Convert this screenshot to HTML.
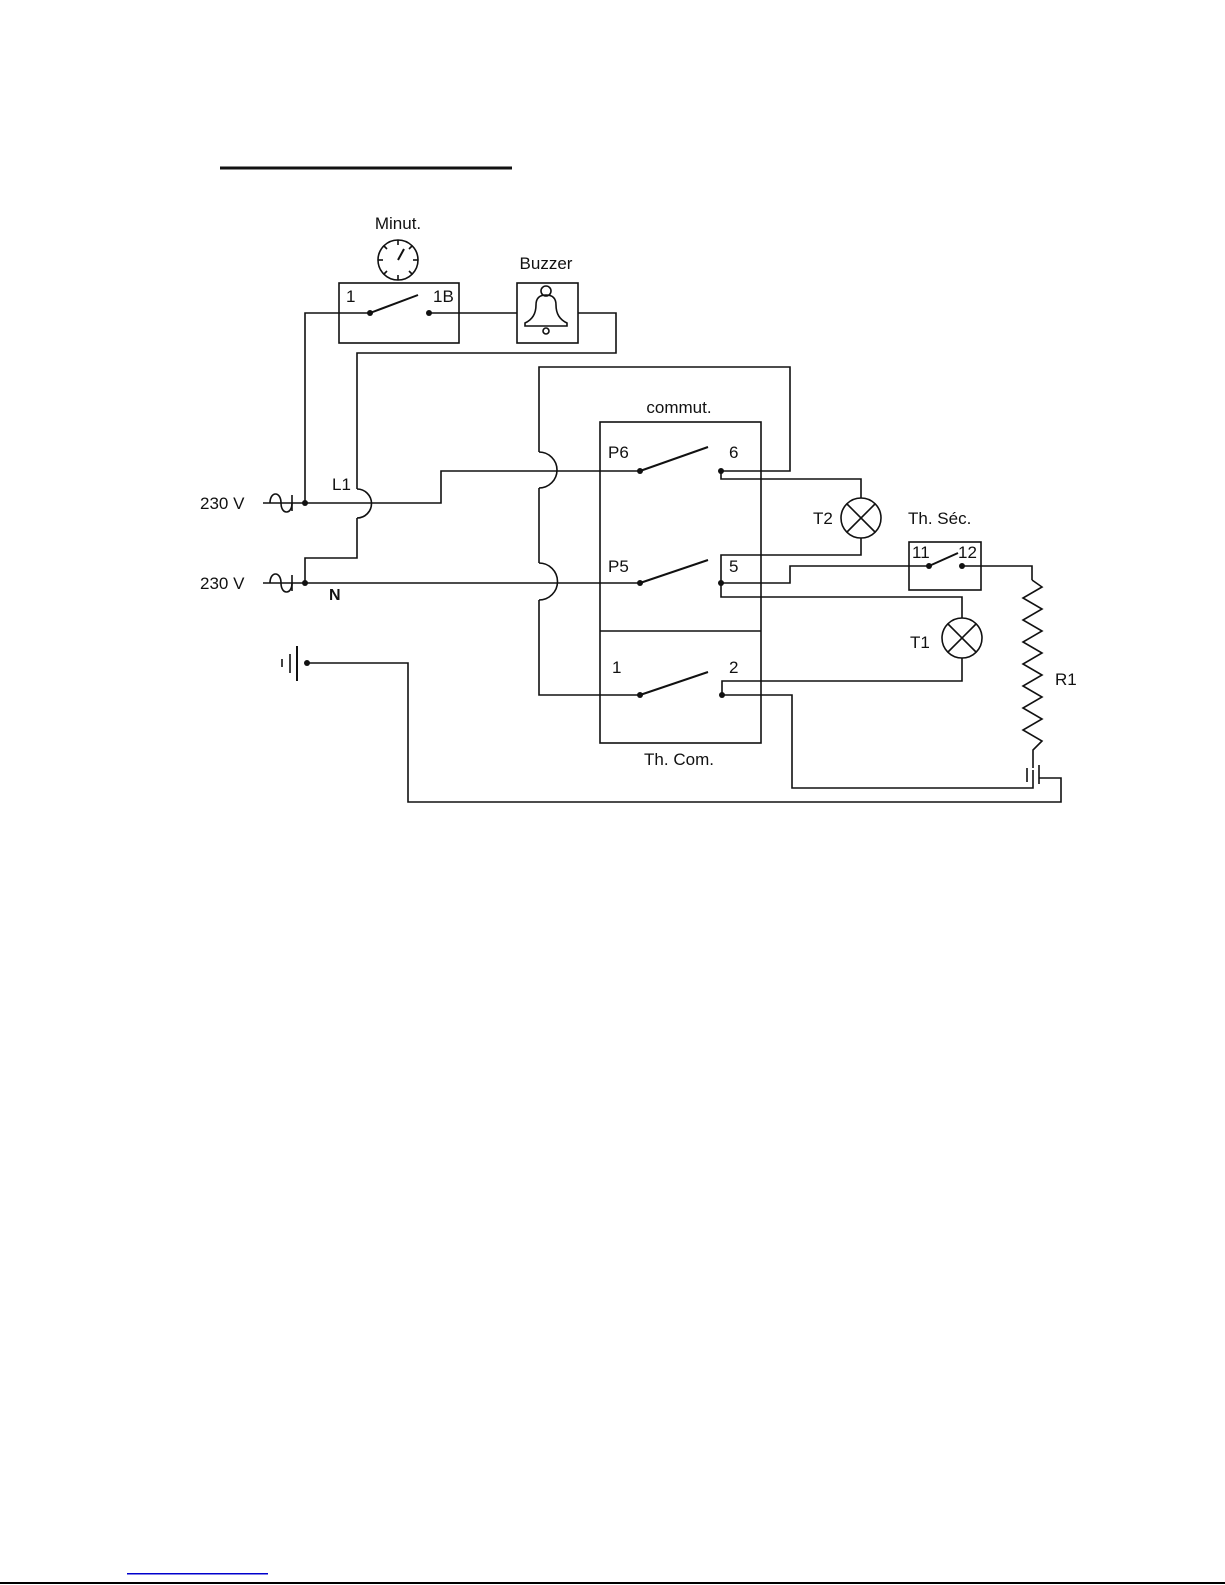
<!DOCTYPE html>
<html><head><meta charset="utf-8"><style>
html,body{margin:0;padding:0;background:#fff;}
svg{display:block;}
text{font-family:"Liberation Sans",sans-serif;font-size:17px;fill:#111;}
</style></head><body>
<svg width="1225" height="1585" viewBox="0 0 1225 1585" xmlns="http://www.w3.org/2000/svg">
<g stroke="#111" stroke-width="1.6" fill="none">
<!-- title underline -->
<line x1="220" y1="168" x2="512" y2="168" stroke-width="3"/>
<!-- clock -->
<circle cx="398" cy="260" r="20"/>
<line x1="398" y1="240" x2="398" y2="245"/><line x1="398" y1="275" x2="398" y2="280"/>
<line x1="378" y1="260" x2="383" y2="260"/><line x1="413" y1="260" x2="418" y2="260"/>
<line x1="384" y1="246" x2="387" y2="249"/><line x1="412" y1="246" x2="409" y2="249"/>
<line x1="384" y1="274" x2="387" y2="271"/><line x1="412" y1="274" x2="409" y2="271"/>
<line x1="398" y1="260" x2="404" y2="249" stroke-width="2"/>
<!-- minut box -->
<rect x="339" y="283" width="120" height="60"/>
<line x1="370" y1="313" x2="418" y2="295" stroke-width="2"/>
<!-- buzzer -->
<rect x="517" y="283" width="61" height="60"/>
<circle cx="546" cy="291" r="5"/>
<path d="M525,323 Q536,318 536,305 Q536,295 546,295 Q556,295 556,305 Q556,318 567,323 L567,326 L525,326 Z"/>
<circle cx="546" cy="331" r="3"/>
<!-- wires top -->
<polyline points="370,313 305,313 305,503"/>
<polyline points="429,313 517,313"/>
<polyline points="578,313 616,313 616,353 357,353 357,489"/>
<path d="M357,489 A14,14 0 0 1 357,518"/>
<polyline points="357,518 357,558 305,558 305,583"/>
<!-- L1 -->
<polyline points="263,503 441,503 441,471 640,471"/>
<!-- N -->
<polyline points="263,583 640,583"/>
<!-- AC symbols -->
<path d="M270,503 C270,491 281,491 281,503 C281,515 292,515 292,503"/>
<line x1="292" y1="495" x2="292" y2="511"/>
<path d="M270,583 C270,571 281,571 281,583 C281,595 292,595 292,583"/>
<line x1="292" y1="575" x2="292" y2="591"/>
<!-- vertical big wire x=539 -->
<polyline points="721,471 790,471 790,367 539,367 539,452"/>
<path d="M539,452 A18,18 0 0 1 539,488"/>
<line x1="539" y1="488" x2="539" y2="563"/>
<path d="M539,563 A18,18 0 0 1 539,600"/>
<polyline points="539,600 539,695 640,695"/>
<!-- commut box -->
<rect x="600" y="422" width="161" height="321"/>
<line x1="600" y1="631" x2="761" y2="631"/>
<line x1="640" y1="471" x2="708" y2="447" stroke-width="2"/>
<line x1="640" y1="583" x2="708" y2="560" stroke-width="2"/>
<line x1="640" y1="695" x2="708" y2="672" stroke-width="2"/>
<!-- T2 -->
<polyline points="721,471 721,479 861,479 861,498"/>
<circle cx="861" cy="518" r="20"/>
<line x1="847" y1="504" x2="875" y2="532"/><line x1="875" y1="504" x2="847" y2="532"/>
<polyline points="861,538 861,555 721,555 721,597 962,597 962,618"/>
<!-- T1 -->
<circle cx="962" cy="638" r="20"/>
<line x1="948" y1="624" x2="976" y2="652"/><line x1="976" y1="624" x2="948" y2="652"/>
<polyline points="962,658 962,681 722,681 722,695"/>
<!-- Th Sec -->
<polyline points="721,583 790,583 790,566 929,566"/>
<rect x="909" y="542" width="72" height="48"/>
<line x1="929" y1="566" x2="958" y2="553" stroke-width="2"/>
<polyline points="962,566 1032,566 1032,580"/>
<!-- resistor -->
<polyline points="1032,580 1042,587 1023,598 1042,609 1023,620 1042,631 1023,642 1042,653 1023,664 1042,675 1023,686 1042,697 1023,708 1042,719 1023,730 1042,741 1033,750 1033,768"/>
<!-- 2 to resistor -->
<polyline points="722,695 792,695 792,788 1033,788 1033,770"/>
<line x1="1027" y1="768" x2="1027" y2="782"/>
<line x1="1039" y1="765" x2="1039" y2="784"/>
<polyline points="1039,778 1061,778 1061,802 408,802 408,663 307,663"/>
<!-- ground -->
<line x1="282" y1="659" x2="282" y2="667"/>
<line x1="290" y1="654" x2="290" y2="673"/>
<line x1="297" y1="646" x2="297" y2="681" stroke-width="2"/>
</g>
<g fill="#111">
<circle cx="370" cy="313" r="3"/><circle cx="429" cy="313" r="3"/>
<circle cx="305" cy="503" r="3"/><circle cx="305" cy="583" r="3"/><circle cx="307" cy="663" r="3"/>
<circle cx="640" cy="471" r="3"/><circle cx="721" cy="471" r="3"/>
<circle cx="640" cy="583" r="3"/><circle cx="721" cy="583" r="3"/>
<circle cx="640" cy="695" r="3"/><circle cx="722" cy="695" r="3"/>
<circle cx="929" cy="566" r="3"/><circle cx="962" cy="566" r="3"/>
</g>
<text x="398" y="229" text-anchor="middle">Minut.</text>
<text x="546" y="269" text-anchor="middle">Buzzer</text>
<text x="346" y="302">1</text>
<text x="433" y="302">1B</text>
<text x="200" y="509">230 V</text>
<text x="200" y="589">230 V</text>
<text x="332" y="490">L1</text>
<text x="329" y="600" font-weight="bold" style="font-size:16px">N</text>
<text x="679" y="413" text-anchor="middle">commut.</text>
<text x="608" y="458">P6</text>
<text x="729" y="458">6</text>
<text x="608" y="572">P5</text>
<text x="729" y="572">5</text>
<text x="612" y="673">1</text>
<text x="729" y="673">2</text>
<text x="679" y="765" text-anchor="middle">Th. Com.</text>
<text x="813" y="524">T2</text>
<text x="908" y="524">Th. Séc.</text>
<text x="912" y="558">11</text>
<text x="958" y="558">12</text>
<text x="910" y="648">T1</text>
<text x="1055" y="685">R1</text>
<rect x="127" y="1573" width="141" height="1.5" fill="#0000cc"/>
<rect x="0" y="1582" width="1225" height="2" fill="#000"/>
</svg>
</body></html>
